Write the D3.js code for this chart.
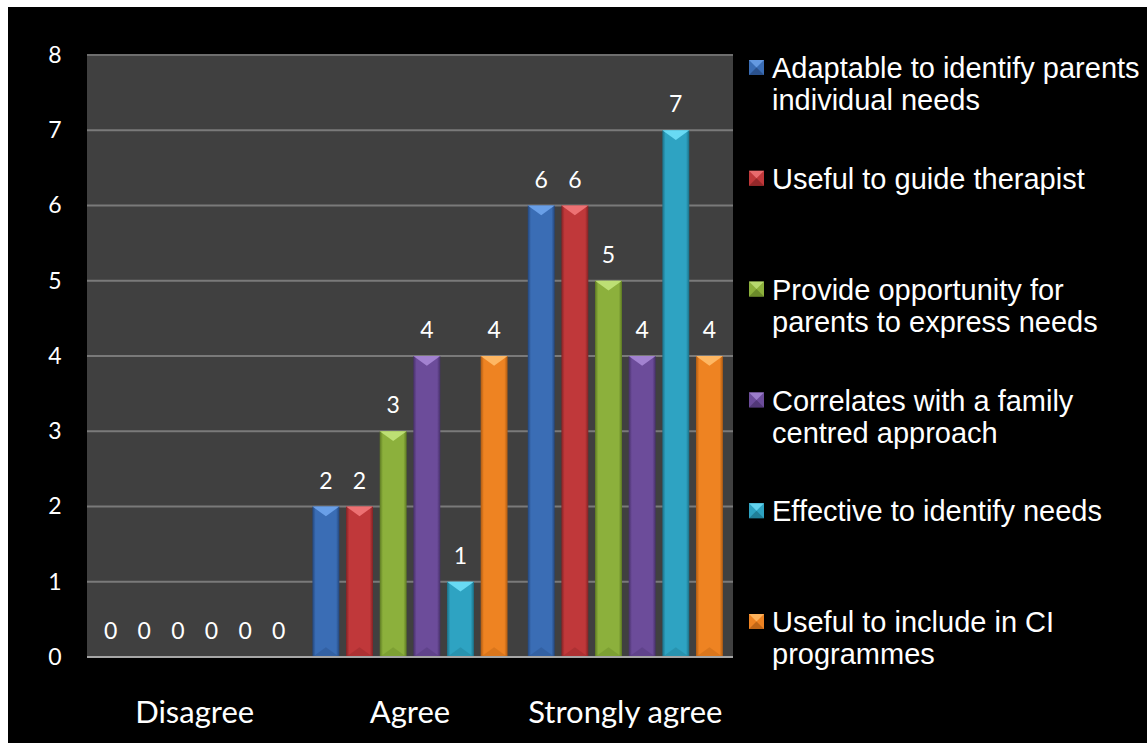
<!DOCTYPE html>
<html>
<head>
<meta charset="utf-8">
<script src="https://cdn.jsdelivr.net/npm/d3@7"></script>
<style>
  html, body { margin: 0; padding: 0; background: #fff; }
  svg { display: block; }
</style>
</head>
<body>
<script>
// ---------- data ----------
let categories = ['Disagree', 'Agree', 'Strongly agree'];
let seriesNames = [
  'Adaptable to identify parents individual needs',
  'Useful to guide therapist',
  'Provide opportunity for parents to express needs',
  'Correlates with a family centred approach',
  'Effective to identify needs',
  'Useful to include in CI programmes'
];
// legend lines as they wrap in the picture
let legendLines = [
  ['Adaptable to identify parents', 'individual needs'],
  ['Useful to guide therapist'],
  ['Provide opportunity for', 'parents to express needs'],
  ['Correlates with a family', 'centred approach'],
  ['Effective to identify needs'],
  ['Useful to include in CI', 'programmes']
];
let adaptable   = [0, 2, 6];
let guide       = [0, 2, 6];
let opportunity = [0, 3, 5];
let correlates  = [0, 4, 4];
let effective   = [0, 1, 7];
let include     = [0, 4, 4];
let yTicks = [0, 1, 2, 3, 4, 5, 6, 7, 8];

let values = [adaptable, guide, opportunity, correlates, effective, include];
let colors = [
  {mid: '#3a6db5', dark: '#23467c', light: '#6fa4ec'},
  {mid: '#c0383a', dark: '#822224', light: '#f2787a'},
  {mid: '#8cb03c', dark: '#5d7a22', light: '#c2e47a'},
  {mid: '#6c4c9a', dark: '#47306a', light: '#a888d6'},
  {mid: '#2ea3c2', dark: '#1b6f86', light: '#6fe0fa'},
  {mid: '#ee8322', dark: '#ad5a12', light: '#ffbd6a'}
];

let width = 1147, height = 743;
let plot = {left: 87, right: 733, top: 55, bottom: 657};

let svg = d3.select('body').append('svg')
  .attr('width', width).attr('height', height);

//---------- background -----------
svg.append('rect').attr('width', width).attr('height', height).attr('fill', '#fff');
svg.append('rect').attr('x', 8).attr('y', 7)
  .attr('width', width - 8).attr('height', height - 7).attr('fill', '#000');

let defs = svg.append('defs');
colors.forEach(function (c, i) {
  let g = defs.append('linearGradient').attr('id', 'bar' + i)
    .attr('x1', 0).attr('x2', 1).attr('y1', 0).attr('y2', 0);
  g.append('stop').attr('offset', 0).attr('stop-color', c.dark);
  g.append('stop').attr('offset', 0.12).attr('stop-color', c.mid);
  g.append('stop').attr('offset', 0.5).attr('stop-color', c.mid);
  g.append('stop').attr('offset', 0.88).attr('stop-color', c.mid);
  g.append('stop').attr('offset', 1).attr('stop-color', c.dark);
});

let x0 = d3.scaleBand().domain(categories)
  .range([plot.left, plot.right]).paddingInner(0).paddingOuter(0);
let x1 = d3.scaleBand().domain(d3.range(seriesNames.length))
  .range([0, x0.bandwidth()]).paddingInner(0.2).paddingOuter(0.3);
let y = d3.scaleLinear().domain([0, 8]).range([plot.bottom, plot.top]);

// plot area
svg.append('rect')
  .attr('x', plot.left).attr('y', plot.top)
  .attr('width', plot.right - plot.left).attr('height', plot.bottom - plot.top)
  .attr('fill', '#404040');

// gridlines
svg.append('g').selectAll('line').data(yTicks.slice(1)).join('line')
  .attr('x1', plot.left).attr('x2', plot.right)
  .attr('y1', d => y(d)).attr('y2', d => y(d))
  .attr('stroke', d => d === 8 ? '#6e6e6e' : '#7a7a7a')
  .attr('stroke-width', 2);

// y axis labels
let yAxis = d3.axisLeft(y).tickValues(yTicks).tickSize(0).tickPadding(0);
let ya = svg.append('g').attr('transform', 'translate(55,0)').call(yAxis);
ya.select('.domain').remove();
ya.selectAll('text')
  .attr('fill', '#fff').attr('text-anchor', 'middle')
  .style('font-family', 'Lato, "Open Sans", sans-serif').style('font-size', '23px');

// bars
let bw = x1.bandwidth();
let groups = svg.append('g').selectAll('g.cat').data(categories).join('g')
  .attr('class', 'cat')
  .attr('transform', d => `translate(${x0(d)},0)`);

groups.each(function (cat, ci) {
  let g = d3.select(this);
  let data = seriesNames.map((s, si) => ({si: si, v: values[si][ci]}));
  let bar = g.selectAll('g.bar').data(data.filter(d => d.v > 0)).join('g').attr('class', 'bar');
  bar.append('rect')
    .attr('x', d => x1(d.si)).attr('y', d => y(d.v))
    .attr('width', bw).attr('height', d => y(0) - y(d.v))
    .attr('fill', d => `url(#bar${d.si})`);
  // top bevel
  bar.append('path')
    .attr('d', function (d) {
      let xa = x1(d.si), ta = y(d.v);
      return `M${xa},${ta}L${xa + bw},${ta}L${xa + bw / 2},${ta + bw * 0.36}Z`;
    })
    .attr('fill', d => colors[d.si].light).attr('opacity', 0.9);
  // bottom bevel
  bar.append('path')
    .attr('d', function (d) {
      let xa = x1(d.si), b = y(0);
      return `M${xa},${b}L${xa + bw},${b}L${xa + bw / 2},${b - bw * 0.36}Z`;
    })
    .attr('fill', d => colors[d.si].dark).attr('opacity', 0.3);

  // value labels
  g.selectAll('text.val').data(data).join('text')
    .attr('class', 'val')
    .attr('x', d => x1(d.si) + bw / 2)
    .attr('y', d => y(d.v) - 26)
    .attr('dy', '0.35em')
    .attr('text-anchor', 'middle')
    .attr('fill', '#fff')
    .style('font-family', 'Lato, "Open Sans", sans-serif').style('font-size', '23px')
    .text(d => d.v);
});

// x axis line
svg.append('line')
  .attr('x1', plot.left).attr('x2', plot.right)
  .attr('y1', y(0)).attr('y2', y(0))
  .attr('stroke', '#a6a6a6').attr('stroke-width', 2);

// category labels
let xAxis = d3.axisBottom(x0).tickSize(0).tickPadding(0);
let xa = svg.append('g').attr('transform', 'translate(0,712)').call(xAxis);
xa.select('.domain').remove();
xa.selectAll('text')
  .attr('dy', '0.35em')
  .attr('fill', '#fff')
  .style('font-family', 'Lato, "Open Sans", sans-serif').style('font-size', '31px');

//---------- legend -----------
let legend = svg.append('g').selectAll('g').data(seriesNames).join('g')
  .attr('transform', (d, i) => `translate(749,${68 + i * 110.8})`);
legend.append('rect')
  .attr('x', 0).attr('y', -8).attr('width', 15).attr('height', 15)
  .attr('fill', (d, i) => colors[i].mid);
legend.append('path')
  .attr('d', 'M0,-8L15,-8L7.5,-0.5Z')
  .attr('fill', (d, i) => colors[i].light).attr('opacity', 0.8);
legend.append('path')
  .attr('d', 'M0,7L15,7L7.5,-0.5Z')
  .attr('fill', (d, i) => colors[i].dark).attr('opacity', 0.7);
legend.append('text')
  .attr('x', 23)
  .attr('fill', '#fff')
  .style('font-family', '"Liberation Sans", Arial, sans-serif').style('font-size', '29px')
  .selectAll('tspan').data((d, i) => legendLines[i]).join('tspan')
  .attr('x', 23)
  .attr('y', (d, j) => j * 32)
  .attr('dy', '0.35em')
  .text(d => d);
</script>
</body>
</html>
